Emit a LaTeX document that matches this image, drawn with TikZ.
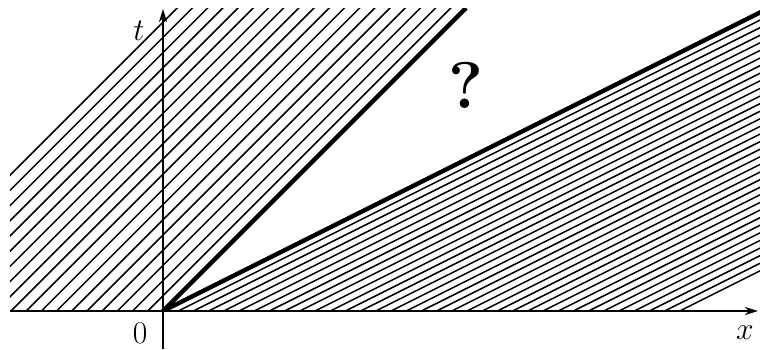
\documentclass[tikz,border=0pt]{standalone}
\usetikzlibrary{arrows.meta}
\tikzset{
  hatch/.style={line width=1.5pt},
  charline/.style={line width=4.3pt},
  axisline/.style={line width=2.3pt,-{Stealth[length=13pt,width=8pt,inset=4pt]}},
  lbl/.style={inner sep=0pt,font=\Huge,scale=1.27,transform shape}
}
\begin{document}
\begin{tikzpicture}[x=1pt,y=1pt]
\useasboundingbox (-163,-38) rectangle (597,311);
\coordinate (O) at (0,0);
\begin{scope}
  \clip (-153,0) rectangle (597,303);
  \foreach \k in {1,...,19} \draw[hatch] ({-\k*15.2},0) -- ++(320,320);
  \foreach \k in {1,...,34} \draw[hatch] ({\k*15.2},0) -- ++(640,320);
  \draw[charline] (O) -- (303,303);
  \draw[charline] (O) -- (620,310);
\end{scope}
\coordinate (xs) at (-153,0);
\coordinate (xe) at (595,0);
\coordinate (ts) at (0,-38);
\coordinate (te) at (0,302);
\draw[axisline] (xs) -- (xe);
\draw[axisline] (ts) -- (te);
\node[lbl] (tl) at (-24,280) {$t$};
\node[lbl] (xl) at (582,-22) {$x$};
\node[lbl] (zl) at (-23,-22) {$0$};
\node[inner sep=0pt,font=\fontsize{66}{68}\selectfont\bfseries] (q) at (303,226) {?};
\end{tikzpicture}
\end{document}
